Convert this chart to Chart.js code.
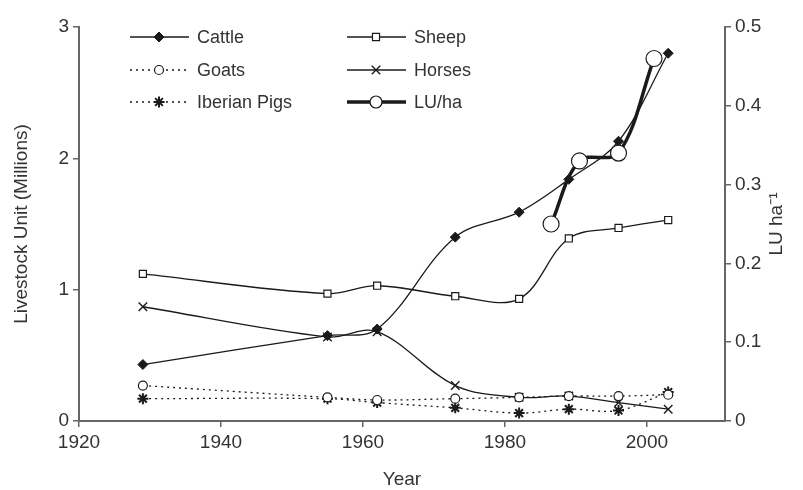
<!DOCTYPE html>
<html>
<head>
<meta charset="utf-8">
<script src="https://cdn.jsdelivr.net/npm/chart.js"></script>
<style>
  body { margin: 0; background: #fff; }
  canvas { display: block; }
</style>
</head>
<body>
<canvas id="livestockChart" width="803" height="490"></canvas>
<script>
// census years for the livestock series
const years = [1929, 1955, 1962, 1973, 1982, 1989, 1996, 2003];
const cattle = [0.43, 0.65, 0.70, 1.40, 1.59, 1.84, 2.13, 2.80];
const sheep = [1.12, 0.97, 1.03, 0.95, 0.93, 1.39, 1.47, 1.53];
const goats = [0.27, 0.18, 0.16, 0.17, 0.18, 0.19, 0.19, 0.20];
const horses = [0.87, 0.64, 0.68, 0.27, 0.18, 0.19, 0.14, 0.09];
const iberianPigs = [0.17, 0.17, 0.14, 0.10, 0.06, 0.09, 0.08, 0.22];

// stocking rate, right axis
const luYears = [1986.5, 1990.5, 1996, 2001];
const luPerHa = [0.25, 0.33, 0.34, 0.46];

const xTicks = [1920, 1940, 1960, 1980, 2000];
const leftTicks = [0, 1, 2, 3];
const rightTicks = [0, 0.1, 0.2, 0.3, 0.4, 0.5];

const ink = '#1a1a1a';
const textColor = '#333';
const axisColor = '#666';
const fontFamily = '"Liberation Sans", Arial, sans-serif';

function pts(xs, ys) {
    return xs.map((x, i) => ({x: x, y: ys[i]}));
}

const datasets = [
    {
        label: 'LU/ha', data: pts(luYears, luPerHa), yAxisID: 'y1', order: -1,
        borderColor: ink, borderWidth: 3.5, pointStyle: 'circle', pointRadius: 8,
        pointBackgroundColor: '#fff', pointBorderColor: ink, pointBorderWidth: 1.2
    },
    {
        label: 'Cattle', data: pts(years, cattle), yAxisID: 'y',
        borderColor: ink, borderWidth: 1.3, pointStyle: 'rectRot', pointRadius: 5,
        pointBackgroundColor: ink, pointBorderColor: ink, pointBorderWidth: 1
    },
    {
        label: 'Sheep', data: pts(years, sheep), yAxisID: 'y',
        borderColor: ink, borderWidth: 1.3, pointStyle: 'rect', pointRadius: 5,
        pointBackgroundColor: '#fff', pointBorderColor: ink, pointBorderWidth: 1.2
    },
    {
        label: 'Goats', data: pts(years, goats), yAxisID: 'y', borderDash: [2, 4],
        borderColor: ink, borderWidth: 1.3, pointStyle: 'circle', pointRadius: 4.5,
        pointBackgroundColor: '#fff', pointBorderColor: ink, pointBorderWidth: 1.2
    },
    {
        label: 'Horses', data: pts(years, horses), yAxisID: 'y',
        borderColor: ink, borderWidth: 1.3, pointStyle: 'crossRot', pointRadius: 6,
        pointBackgroundColor: ink, pointBorderColor: ink, pointBorderWidth: 1.4
    },
    {
        label: 'Iberian Pigs', data: pts(years, iberianPigs), yAxisID: 'y', borderDash: [2, 4],
        borderColor: ink, borderWidth: 1.3, pointStyle: 'star', pointRadius: 5.5,
        pointBackgroundColor: ink, pointBorderColor: ink, pointBorderWidth: 2
    }
];

// legend in two columns inside the plot, each entry drawn as line + marker
const legendLayout = [
    ['Cattle', 130, 37], ['Goats', 130, 70], ['Iberian Pigs', 130, 102],
    ['Sheep', 347, 37], ['Horses', 347, 70], ['LU/ha', 347, 102]
];

const insideLegend = {
    id: 'insideLegend',
    afterDraw(chart) {
        const c = chart.ctx;
        legendLayout.forEach(([name, x, y]) => {
            const ds = chart.data.datasets.find(d => d.label === name);
            c.save();
            c.strokeStyle = ds.borderColor;
            c.lineWidth = ds.borderWidth;
            c.setLineDash(ds.borderDash || []);
            c.beginPath();
            c.moveTo(x, y);
            c.lineTo(x + 59, y);
            c.stroke();
            c.setLineDash([]);
            c.fillStyle = ds.pointBackgroundColor;
            c.strokeStyle = ds.pointBorderColor;
            c.lineWidth = ds.pointBorderWidth;
            Chart.helpers.drawPoint(c, {
                pointStyle: ds.pointStyle,
                radius: name === 'LU/ha' ? 6 : ds.pointRadius,
                rotation: 0,
                borderWidth: ds.pointBorderWidth
            }, x + 29, y);
            c.fillStyle = textColor;
            c.font = '18px ' + fontFamily;
            c.textBaseline = 'middle';
            c.fillText(name, x + 67, y + 1);
            c.restore();
        });

        // right axis title reads bottom-to-top, like the left one
        const area = chart.chartArea;
        c.save();
        c.translate(777, (area.top + area.bottom) / 2);
        c.rotate(-Math.PI / 2);
        c.fillStyle = textColor;
        c.font = '19px ' + fontFamily;
        c.textAlign = 'center';
        c.textBaseline = 'middle';
        c.fillText('LU ha⁻¹', 0, 0);
        c.restore();
    }
};

const tickFont = {family: fontFamily, size: 19};

new Chart(document.getElementById('livestockChart').getContext('2d'), {
    type: 'line',
    data: {datasets: datasets},
    options: {
        responsive: false,
        animation: false,
        layout: {padding: {top: 27, left: 0, right: 0, bottom: 0}},
        elements: {line: {tension: 0.35, fill: false}},
        plugins: {legend: {display: false}, tooltip: {enabled: false}},
        scales: {
            x: {
                type: 'linear',
                min: 1920,
                max: 2011,
                afterFit: s => { s.height = 69; },
                afterBuildTicks: s => { s.ticks = xTicks.map(v => ({value: v})); },
                ticks: {color: textColor, font: tickFont, maxRotation: 0, padding: 4,
                        callback: v => String(v)},
                grid: {drawOnChartArea: false, tickLength: 6, color: axisColor, lineWidth: 1.5},
                border: {color: axisColor, width: 2},
                title: {display: true, text: 'Year', color: textColor, font: tickFont, padding: {top: 0, bottom: -1}}
            },
            y: {
                position: 'left',
                min: 0,
                max: 3,
                afterFit: s => { s.width = 79; },
                afterBuildTicks: s => { s.ticks = leftTicks.map(v => ({value: v})); },
                ticks: {color: textColor, font: tickFont, padding: 4},
                grid: {drawOnChartArea: false, tickLength: 6, color: axisColor, lineWidth: 1.5},
                border: {color: axisColor, width: 2},
                title: {display: true, text: 'Livestock Unit (Millions)', color: textColor, font: tickFont,
                        padding: {top: 10, bottom: 2}}
            },
            y1: {
                position: 'right',
                min: 0,
                max: 0.5,
                afterFit: s => { s.width = 78; },
                afterBuildTicks: s => { s.ticks = rightTicks.map(v => ({value: v})); },
                ticks: {color: textColor, font: tickFont, padding: 4},
                grid: {drawOnChartArea: false, tickLength: 6, color: axisColor, lineWidth: 1.5},
                border: {color: axisColor, width: 2}
            }
        }
    },
    plugins: [insideLegend]
});
</script>
</body>
</html>
